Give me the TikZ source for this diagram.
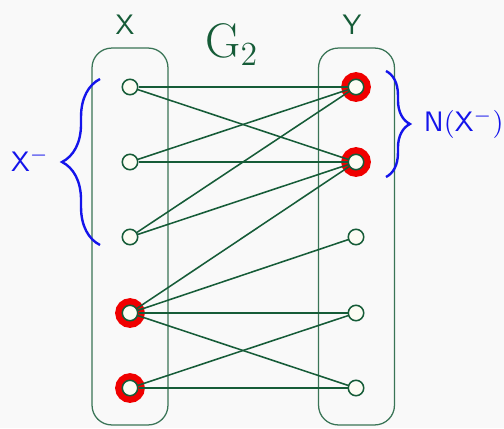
\documentclass[tikz,border=0pt]{standalone}
\usepackage{amsmath,amssymb,xcolor}
\definecolor{grgreen}{RGB}{22,92,56}
\definecolor{grblue}{RGB}{20,20,235}
\definecolor{grred}{RGB}{240,0,0}
\definecolor{grfill}{RGB}{252,252,243}
\definecolor{grback}{RGB}{249,249,249}
\usetikzlibrary{decorations.pathreplacing}

\begin{document}
\begin{tikzpicture}[
  x=0.0125cm, y=-0.0125cm,
  vtx/.style={
    circle, draw=grgreen, line width=0.55pt,
    fill=grfill, inner sep=0pt, minimum size=5.5pt
  },
  hit/.style={
    vtx,
    preaction={draw=grred, line width=5pt}
  },
  part/.style={
    rectangle, rounded corners=7pt,
    draw=grgreen!85!white, line width=0.45pt,
    minimum width=27pt, minimum height=134pt
  },
  conn/.style={draw=grgreen, line width=0.55pt},
  grbrace/.style={draw=grblue, line width=0.85pt, decorate},
  lbl/.style={font=\sffamily, text=grgreen}
]
\useasboundingbox (0,0) rectangle (504,428);
\fill[grback] (0,0) rectangle (504,428);

\node[part] (px) at (130,236.5) {};
\node[part] (py) at (356.5,236.5) {};

\node[lbl] (lx) at (125,25) {X};
\node[lbl] (ly) at (352,25) {Y};
\node[text=grgreen, font=\fontsize{17.5}{20}\selectfont] (lg) at (232,45) {$\mathrm{G}_2$};

\node[vtx] (x1) at (130,87)  {};
\node[vtx] (x2) at (130,162) {};
\node[vtx] (x3) at (130,237) {};
\node[hit] (x4) at (130,313) {};
\node[hit] (x5) at (130,388) {};

\node[hit] (y1) at (356,87)  {};
\node[hit] (y2) at (356,162) {};
\node[vtx] (y3) at (356,237) {};
\node[vtx] (y4) at (356,313) {};
\node[vtx] (y5) at (356,388) {};

\draw[conn] (x1) -- (y1);
\draw[conn] (x1) -- (y2);
\draw[conn] (x2) -- (y1);
\draw[conn] (x2) -- (y2);
\draw[conn] (x3) -- (y1);
\draw[conn] (x3) -- (y2);
\draw[conn] (x4) -- (y2);
\draw[conn] (x4) -- (y3);
\draw[conn] (x4) -- (y4);
\draw[conn] (x4) -- (y5);
\draw[conn] (x5) -- (y4);
\draw[conn] (x5) -- (y5);

\draw[grbrace, decoration={brace, amplitude=13.5pt}] (100,245) -- (100,79);
\draw[grbrace, decoration={brace, amplitude=8.5pt}] (386,71) -- (386,177);

\node[text=grblue, font=\sffamily] (xm) at (30,160) {X$^-$};
\node[text=grblue, anchor=west] (nx) at (414,124) {$\mathsf{N}(\mathsf{X}^-)$};
\end{tikzpicture}
\end{document}
